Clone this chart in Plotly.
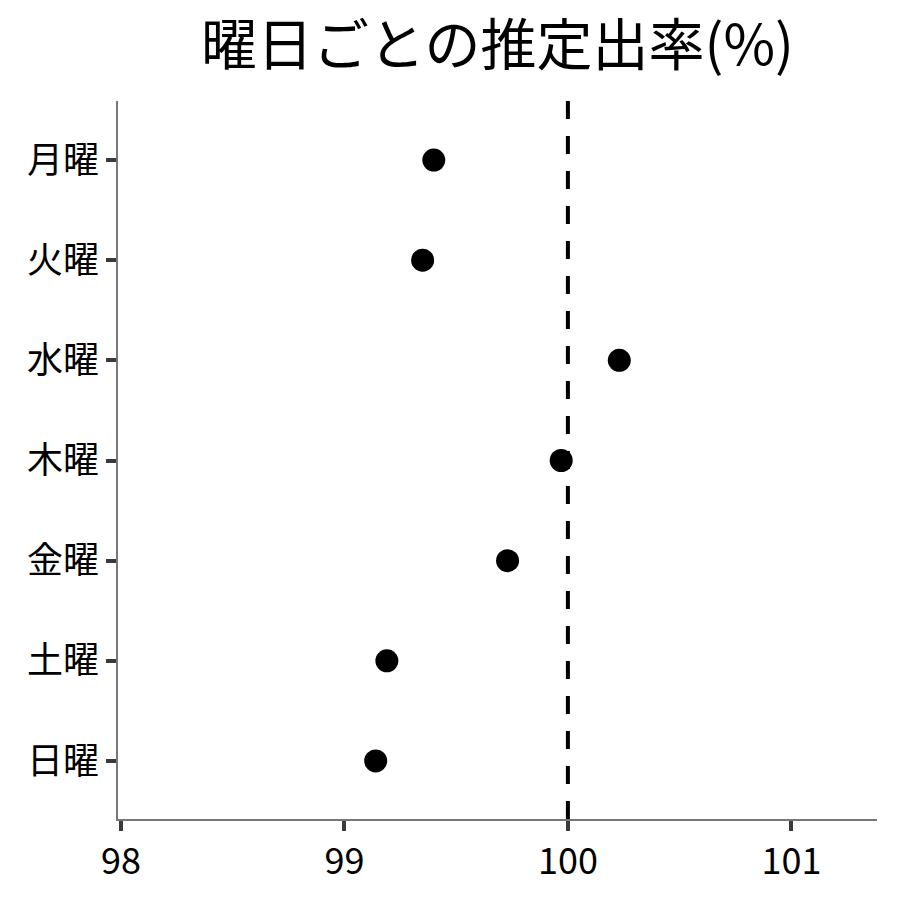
import plotly.graph_objects as go

# data
days = ["月曜", "火曜", "水曜", "木曜", "金曜", "土曜", "日曜"]
rates = [99.40, 99.35, 100.23, 99.97, 99.73, 99.19, 99.14]
ref_value = 100
x_ticks = [98, 99, 100, 101]

font_family = "Noto Sans CJK JP"

fig = go.Figure()

# vertical reference line at 100 (dashed), drawn under the points
fig.add_shape(
    type="line",
    x0=ref_value, x1=ref_value, y0=0, y1=1,
    xref="x", yref="paper",
    line=dict(color="black", width=4, dash="18px,17px"),
    layer="below",
)

fig.add_trace(
    go.Scatter(
        x=rates,
        y=days,
        mode="markers",
        marker=dict(color="black", size=23),
        showlegend=False,
    )
)

# page body adds ~8px offset, so margins are shifted to compensate
fig.update_layout(
    width=900,
    height=900,
    plot_bgcolor="white",
    paper_bgcolor="white",
    font=dict(family=font_family, color="black", size=36),
    title=dict(
        text="曜日ごとの推定出率(%)",
        x=0.5,
        xref="paper",
        xanchor="center",
        y=0.959,
        yanchor="middle",
        font=dict(family=font_family, size=56, color="black"),
    ),
    margin=dict(l=110, r=31, t=93, b=89),
)

fig.update_xaxes(
    range=[97.987, 101.383],
    tickvals=x_ticks,
    ticktext=[str(v) for v in x_ticks],
    showgrid=False,
    zeroline=False,
    showline=True,
    linecolor="#777777",
    linewidth=1.5,
    ticks="outside",
    ticklen=10,
    tickwidth=4,
    tickcolor="#3a3a3a",
    tickfont=dict(size=36),
)

fig.update_yaxes(
    categoryorder="array",
    categoryarray=days,
    autorange=False,
    range=[6.58, -0.59],
    showgrid=False,
    zeroline=False,
    showline=True,
    linecolor="#777777",
    linewidth=1.5,
    ticks="outside",
    ticklen=10,
    tickwidth=4,
    tickcolor="#3a3a3a",
    tickfont=dict(size=36),
)

fig.write_html("out.html")
